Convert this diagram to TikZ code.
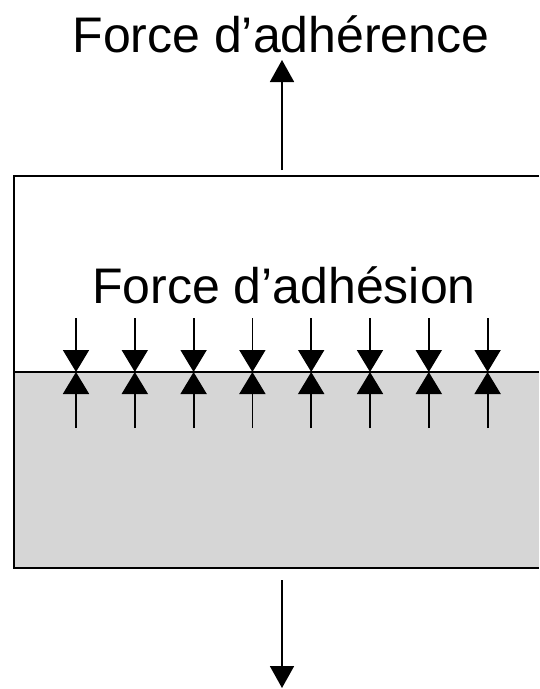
\documentclass[tikz,border=0pt]{standalone}
\usepackage{fontspec}
\setmainfont{Liberation Sans}
\usetikzlibrary{arrows.meta}
\definecolor{solidgray}{RGB}{214,214,214}
\tikzset{
  label text/.style={font=\fontsize{50}{60}\selectfont, anchor=base, inner sep=0pt},
  big arrow/.style={line width=1.8pt, -{Triangle[width=24pt,length=22pt]}},
  small arrow/.style={line width=1.8pt, -{Triangle[width=26pt,length=22pt]}},
  outline/.style={line width=2pt}
}
\begin{document}
\begin{tikzpicture}[x=1pt,y=-1pt]
\useasboundingbox (0,0) rectangle (539,689);
\fill[white] (0,0) rectangle (539,689);
% lower body
\fill[solidgray] (14,372) rectangle (539,568);
\draw[outline] (539,176) -- (14,176) -- (14,568) -- (539,568);
\draw[outline] (14,372) -- (539,372);
% labels
\node[label text] (adherence) at (281,52) {Force d’adhérence};
\node[label text] (adhesion) at (284,303) {Force d’adhésion};
% main arrows
\coordinate (topstart) at (282,170);
\coordinate (toptip) at (282,60);
\coordinate (botstart) at (282,580);
\coordinate (bottip) at (282,688);
\draw[big arrow] (topstart) -- (toptip);
\draw[big arrow] (botstart) -- (bottip);
% interface arrows
\foreach \i in {0,...,7} {
  \pgfmathsetmacro{\xx}{76+58.8*\i}
  \coordinate (a\i) at (\xx,318);
  \coordinate (m\i) at (\xx,372);
  \coordinate (b\i) at (\xx,428);
  \draw[small arrow] (a\i) -- (m\i);
  \draw[small arrow] (b\i) -- (m\i);
}
\end{tikzpicture}
\end{document}
